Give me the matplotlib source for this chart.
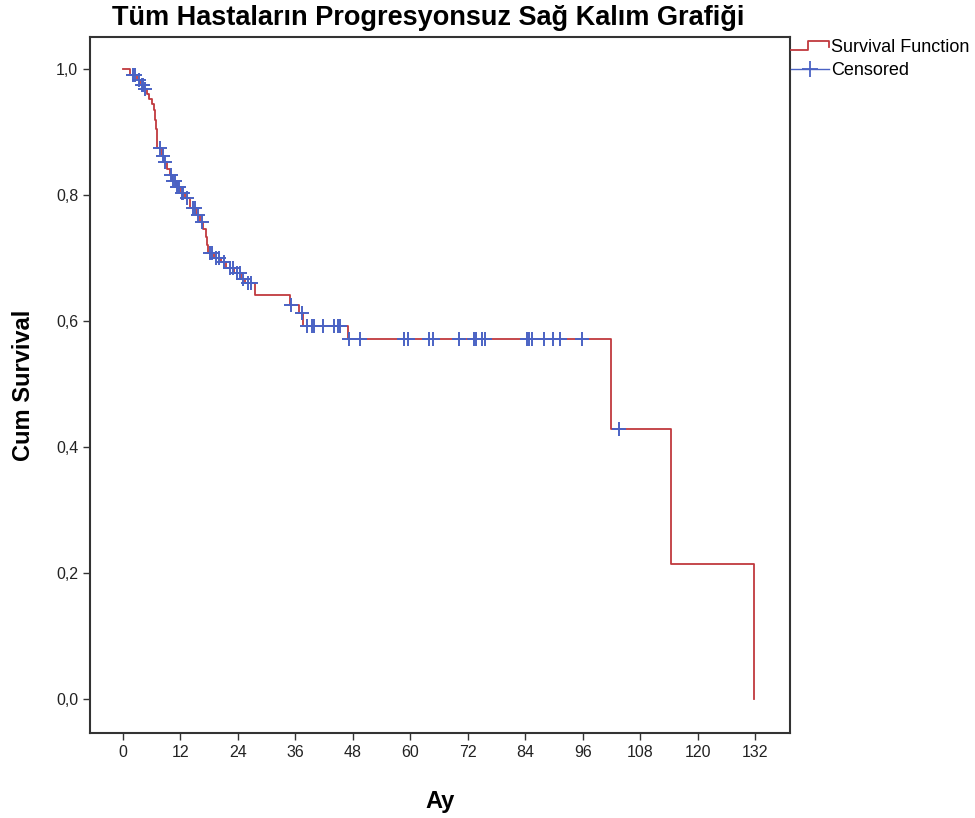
import numpy as np
import matplotlib
matplotlib.use("Agg")
import matplotlib.pyplot as plt
from matplotlib.lines import Line2D
from matplotlib.legend_handler import HandlerBase

# ---- data ----
event_times = [0.0, 1.5, 3.0, 3.6, 4.4, 5.0, 5.5, 6.0, 6.4, 6.6, 6.8, 7.0, 7.1,
               8.1, 8.6, 9.2, 9.8, 10.3, 11.0, 12.0, 13.0, 14.0, 15.3, 16.0,
               16.8, 17.3, 17.6, 17.8, 19.0, 20.5, 21.5, 23.2, 24.7, 25.5, 27.6,
               34.8, 36.8, 37.6, 46.9, 101.9, 114.5, 131.7]
survival = [1.0, 0.990, 0.982, 0.975, 0.968, 0.960, 0.952, 0.944, 0.935, 0.920,
            0.905, 0.890, 0.875, 0.862, 0.852, 0.842, 0.832, 0.822, 0.813, 0.804,
            0.795, 0.780, 0.768, 0.757, 0.746, 0.733, 0.720, 0.708, 0.700, 0.694,
            0.684, 0.676, 0.667, 0.660, 0.641, 0.625, 0.613, 0.592, 0.571, 0.428,
            0.214, 0.0]
censored_times = [2.0, 2.5, 3.3, 3.9, 4.2, 4.6, 7.8, 8.4, 8.8, 10.0, 10.5, 10.8,
                  11.2, 11.5, 11.7, 12.3, 12.6, 13.3, 14.6, 15.0, 15.6, 16.4,
                  18.1, 18.6, 19.4, 20.0, 21.0, 22.3, 23.0, 23.8, 24.4, 25.0,
                  26.0, 26.8, 35.0, 37.3, 38.5, 39.4, 39.8, 41.7, 44.0, 44.8,
                  45.3, 47.2, 49.5, 58.7, 59.5, 63.9, 64.7, 70.2, 73.2, 73.7,
                  74.9, 75.6, 84.3, 84.7, 85.4, 87.9, 89.7, 91.3, 95.8, 103.6]
x_ticks = [0, 12, 24, 36, 48, 60, 72, 84, 96, 108, 120, 132]
y_ticks = [0.0, 0.2, 0.4, 0.6, 0.8, 1.0]
y_tick_labels = ["0,0", "0,2", "0,4", "0,6", "0,8", "1,0"]

title = "Tüm Hastaların Progresyonsuz Sağ Kalım Grafiği"
xlabel = "Ay"
ylabel = "Cum Survival"

RED = "#C0393E"
BLUE = "#4A62C4"

plt.rcParams["font.family"] = ["Liberation Sans", "DejaVu Sans"]

fig = plt.figure(figsize=(9.75, 8.18), dpi=100)
ax = fig.add_axes([90 / 975, 1 - 733 / 818, 700 / 975, 696 / 818])

# step curve
ax.step(event_times, survival, where="post", color=RED, lw=1.3, zorder=2)

# censored marks on curve
et = np.array(event_times)
sv = np.array(survival)
idx = np.searchsorted(et, censored_times, side="right") - 1
cy = sv[idx]
ax.plot(censored_times, cy, linestyle="none", marker="+", color=BLUE,
        markersize=10, markeredgewidth=1.4, zorder=3)

ax.set_xlim(-6.9, 139.3)
ax.set_ylim(-0.054, 1.051)
ax.set_xticks(x_ticks)
ax.set_xticklabels([str(t) for t in x_ticks])
ax.set_yticks(y_ticks)
ax.set_yticklabels(y_tick_labels)
ax.tick_params(axis="both", direction="out", length=5, width=1, color="#333333",
               labelsize=11.5, labelcolor="#222222")
for s in ax.spines.values():
    s.set_color("#333333")
    s.set_linewidth(1.5)

ax.set_xlabel(xlabel, fontsize=17, fontweight="bold", labelpad=22)
ax.set_ylabel(ylabel, fontsize=17, fontweight="bold", labelpad=15)
fig.text(428 / 975, 1 - 18 / 818, title, ha="center", va="center",
         fontsize=19.5, fontweight="bold")


class StepHandler(HandlerBase):
    def create_artists(self, legend, orig_handle, xdescent, ydescent, width,
                       height, fontsize, trans):
        x0 = -xdescent
        y0 = -ydescent
        lo = y0 + 0.15 * height
        hi = y0 + 0.85 * height
        xs = [x0, x0 + 0.45 * width, x0 + 0.45 * width, x0 + width, x0 + width]
        ys = [lo, lo, hi, hi, lo + 0.2 * height]
        ln = Line2D(xs, ys, color=RED, lw=1.3, transform=trans)
        return [ln]


class CrossHandler(HandlerBase):
    def create_artists(self, legend, orig_handle, xdescent, ydescent, width,
                       height, fontsize, trans):
        x0 = -xdescent
        y0 = -ydescent
        ym = y0 + 0.5 * height
        ln = Line2D([x0, x0 + width], [ym, ym], color=BLUE, lw=1.0, transform=trans)
        mk = Line2D([x0 + 0.5 * width], [ym], marker="+", color=BLUE,
                    markersize=12, markeredgewidth=1.3, linestyle="none",
                    transform=trans)
        return [ln, mk]


h1 = Line2D([], [], color=RED)
h2 = Line2D([], [], color=BLUE)
leg = fig.legend([h1, h2], ["Survival Function", "Censored"],
                 handler_map={h1: StepHandler(), h2: CrossHandler()},
                 loc="upper left", bbox_to_anchor=(789 / 975, 1 - 37 / 818),
                 frameon=False, fontsize=13, handlelength=2.1,
                 handletextpad=0.15, labelspacing=0.35, borderaxespad=0,
                 borderpad=0.1)

fig.savefig("out.png", dpi=100)
